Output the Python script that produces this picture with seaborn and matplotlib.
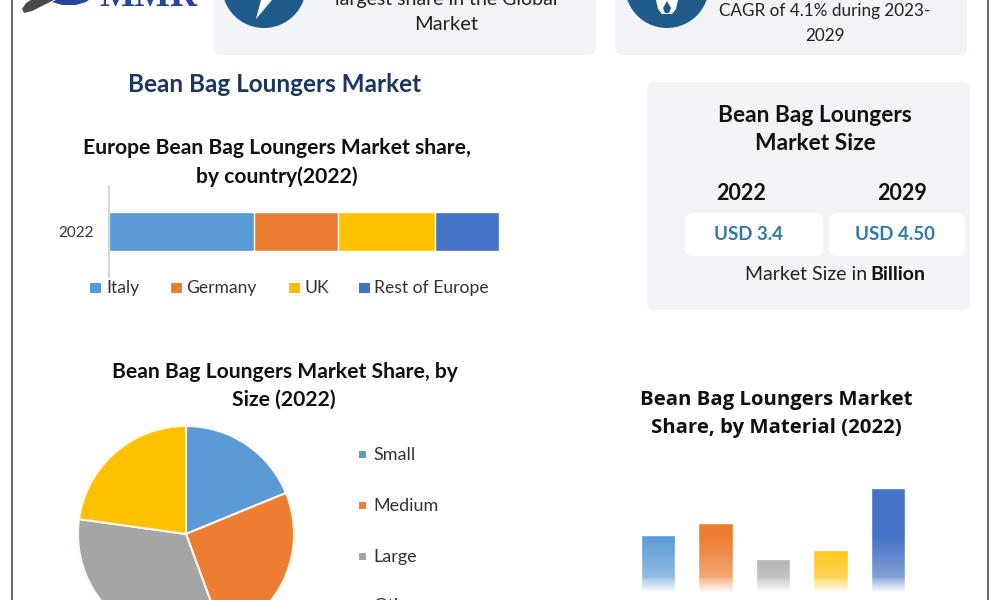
import matplotlib
matplotlib.use('Agg')
import matplotlib.pyplot as plt
from matplotlib.patches import FancyBboxPatch, Circle, Polygon
import numpy as np
import pandas as pd
import seaborn as sns

countries = ['Italy', 'Germany', 'UK', 'Rest of Europe']
country_share = [37.3, 21.3, 25.0, 16.4]
country_year = '2022'

sizes = ['Small', 'Medium', 'Large', 'Others']
size_share = [18.8, 25.6, 32.8, 22.8]

# material names are cut off in the source picture
materials = ['m1', 'm2', 'm3', 'm4', 'm5']
material_share = [56, 68, 33, 42, 103]

market_years = ['2022', '2029']
market_values = ['USD 3.4', 'USD 4.50']

colors = ['#5b9bd5', '#ed7d31', '#ffc000', '#4472c4']
pie_colors = ['#5b9bd5', '#ed7d31', '#a5a5a5', '#ffc000']
bar_colors = ['#5b9bd5', '#ed7d31', '#a5a5a5', '#ffc000', '#4472c4']

W, H = 1000, 600
sns.set_theme(style='white')
plt.rcParams['font.family'] = ['Lato', 'DejaVu Sans']

fig = plt.figure(figsize=(10, 6), dpi=100, facecolor='white')


def px_axes(x0, y0, x1, y1, **kw):
    # axes from pixel box, y counted from the top
    return fig.add_axes([x0 / W, 1 - y1 / H, (x1 - x0) / W, (y1 - y0) / H], **kw)


bg = px_axes(0, 0, W, H)
bg.set_xlim(0, W)
bg.set_ylim(H, 0)
bg.axis('off')

bg.plot([12, 12], [0, H], color='#6e6e6e', lw=1.5)
bg.plot([988, 988], [0, H], color='#6e6e6e', lw=1.5)


def card(x0, y0, x1, y1, color='#f3f4f8'):
    bg.add_patch(FancyBboxPatch((x0 + 8, y0 + 8), x1 - x0 - 16, y1 - y0 - 16,
                                boxstyle='round,pad=8,rounding_size=8', fc=color, ec='none'))


card(213, -20, 596, 55)
card(615, -20, 967, 55)
card(647, 82, 970, 310)
card(685, 213, 823, 256, 'white')
card(829, 213, 965, 256, 'white')

# logo
bg.text(148, -3, 'MMR', family='Liberation Serif', weight='bold', fontsize=27, color='#27459b',
        ha='center', va='center')
bg.add_patch(Polygon([(22, 9), (26, 3), (34, -2), (58, -2), (46, 4), (32, 11), (24, 13)],
                     fc='#4a4a4a', ec='none'))
bg.add_patch(Polygon([(52, 2), (62, 5), (76, 5), (86, 2), (92, -2), (60, -2)], fc='#27459b', ec='none'))

# icons
for cx in [264, 667]:
    bg.add_patch(Circle((cx, -14), 42, fc='#1f5c8b', ec='none'))
bg.add_patch(Polygon([(256, 19), (261, 0), (272, 0)], fc='white', ec='none'))
bg.add_patch(Polygon([(656, 0), (658, 9), (662, 14), (672, 14), (676, 9), (678, 0)], fc='white', ec='none'))
bg.add_patch(Polygon([(667, 1), (671, 8), (669, 13), (665, 13), (663, 8)], fc='#1f5c8b', ec='none'))

# top card text
bg.text(446, -1, 'largest share in the Global', fontsize=14, color='#222222', ha='center', va='center')
bg.text(446, 24, 'Market', fontsize=14.5, color='#222222', ha='center', va='center')
bg.text(825, 11, 'CAGR of 4.1% during 2023-', fontsize=12.3, color='#222222', ha='center', va='center')
bg.text(825, 36, '2029', fontsize=12.3, color='#222222', ha='center', va='center')

bg.text(275, 84, 'Bean Bag Loungers Market', fontsize=17.5, weight='bold', color='#1b365f',
        ha='center', va='center')

bg.text(277, 148, 'Europe Bean Bag Loungers Market share,', fontsize=15.2, weight='bold',
        color='#111111', ha='center', va='center')
bg.text(277, 177, 'by country(2022)', fontsize=15.2, weight='bold', color='#111111', ha='center', va='center')

bg.text(285, 372, 'Bean Bag Loungers Market Share, by', fontsize=15.2, weight='bold', color='#111111',
        ha='center', va='center')
bg.text(284, 400, 'Size (2022)', fontsize=15.2, weight='bold', color='#111111', ha='center', va='center')

bg.text(776, 400, 'Bean Bag Loungers Market', family='Open Sans', fontsize=14.7, weight='bold',
        color='#111111', ha='center', va='center')
bg.text(776, 428, 'Share, by Material (2022)', family='Open Sans', fontsize=14.7, weight='bold',
        color='#111111', ha='center', va='center')

bg.text(815, 116, 'Bean Bag Loungers', fontsize=16.4, weight='bold', color='#111111', ha='center', va='center')
bg.text(815, 144, 'Market Size', fontsize=16.4, weight='bold', color='#111111', ha='center', va='center')
bg.text(741, 193, market_years[0], fontsize=15.5, weight='bold', color='#111111', ha='center', va='center')
bg.text(902, 193, market_years[1], fontsize=15.5, weight='bold', color='#111111', ha='center', va='center')
bg.text(749, 235, market_values[0], fontsize=13.5, weight='bold', color='#2f7ba8', ha='center', va='center')
bg.text(895, 235, market_values[1], fontsize=13.5, weight='bold', color='#2f7ba8', ha='center', va='center')
bg.text(745, 275, 'Market Size in', fontsize=14, color='#222222', ha='left', va='center')
bg.text(870, 275, 'Billion', fontsize=14, weight='bold', color='#111111', ha='left', va='center')

# stacked share bar, longest running total drawn first
ax1 = px_axes(109, 186, 499, 277)
ax1.patch.set_alpha(0)
running = np.cumsum(country_share)
for i in range(len(countries) - 1, -1, -1):
    sns.barplot(x=[running[i]], y=[country_year], color=colors[i], saturation=1, width=0.42,
                orient='h', ax=ax1)
ax1.set_xlim(0, 100)
ax1.set_xlabel('')
ax1.set_ylabel('')
ax1.set_xticks([])
ax1.tick_params(axis='y', length=0, labelsize=11, labelcolor='#333333', pad=11)
sns.despine(ax=ax1, top=True, right=True, bottom=True)
ax1.spines['left'].set_color('#d0d0d0')

legend_x = [90, 171, 289, 359]
text_x = [106, 186, 304, 374]
for x, tx, c, name in zip(legend_x, text_x, colors, countries):
    bg.add_patch(plt.Rectangle((x, 283), 11, 10, fc=c, ec='none'))
    bg.text(tx, 288, name, fontsize=12.6, color='#333333', ha='left', va='center')

# size pie
ax2 = px_axes(186 - 110, 534 - 110, 186 + 110, 534 + 110)
ax2.pie(size_share, colors=pie_colors, startangle=90, counterclock=False, radius=108 / 110,
        wedgeprops={'edgecolor': '#fff8e8', 'linewidth': 1.5})
ax2.set_xlim(-1, 1)
ax2.set_ylim(-1, 1)

for y, c, name in zip([455, 506, 557, 606], pie_colors, sizes):
    bg.add_patch(plt.Rectangle((359, y - 4), 7, 7, fc=c, ec='none'))
    bg.text(373, y, name, fontsize=13, color='#333333', ha='left', va='center')

# material bars, faded to white at the base
ax3 = px_axes(629, 488, 917, 592)
ax3.patch.set_alpha(0)
df_mat = pd.DataFrame({'material': materials, 'share': material_share})
sns.barplot(data=df_mat, x='material', y='share', hue='material', palette=bar_colors, saturation=1,
            width=0.6, legend=False, ax=ax3)
ax3.axis('off')
fade = np.ones((100, 2, 4))
alpha = np.linspace(0, 0.45, 100)
alpha[75:] = np.linspace(0.45, 0.97, 25)
fade[..., 3] = alpha[:, None]
ax3.imshow(fade, extent=(-0.5, 4.5, 0, 55), aspect='auto', zorder=5)
ax3.set_ylim(0, 103)
ax3.set_xlim(-0.5, 4.5)

fig.savefig('out.png', dpi=100)
